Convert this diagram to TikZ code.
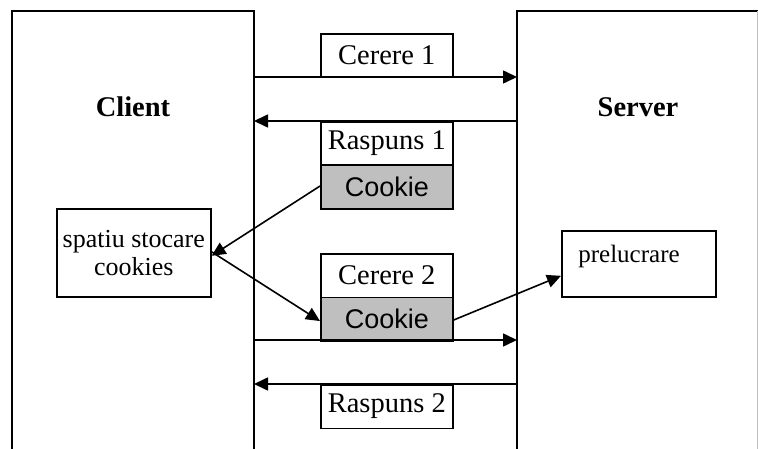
\documentclass[tikz,border=0pt]{standalone}
\usepackage{fontspec}
\setmainfont{Liberation Serif}
\newfontfamily\arialf{Liberation Sans}
\usetikzlibrary{arrows.meta}
\begin{document}
\begin{tikzpicture}[x=1pt,y=-1pt,
  lw/.style={line width=1.6pt},
  msg/.style={draw,lw,minimum width=132pt,minimum height=43.5pt,inner sep=0pt,anchor=north west,font=\fontsize{28.5}{30}\selectfont},
  ck/.style={msg,fill=black!25,font=\arialf\fontsize{27}{30}\selectfont},
  arr/.style={lw,-{Triangle[length=14pt,width=13pt]}},
  title/.style={font=\bfseries\fontsize{28.5}{30}\selectfont}]
\useasboundingbox (0,0) rectangle (758,449);
% client and server
\draw[lw] (12,449) coordinate (cbl) -- (12,11) -- (254,11) -- (254,449) coordinate (cbr);
\draw[lw] (758,11) -- (517,11) -- (517,449);
\draw[line width=1pt,black!25] (757,11) -- (757,449);
\node[title] (client) at (133,107) {Client};
\node[title] (server) at (638,107) {Server};
% messages
\node[msg] (c1) at (320,33) {Cerere 1};
\node[msg] (r1) at (320,121) {Raspuns 1};
\node[ck] (k1) at (320,164.5) {Cookie};
\node[msg] (c2) at (320,253) {Cerere 2};
\node[ck] (k2) at (320,296.5) {Cookie};
\node[msg] (r2) at (320,384) {Raspuns 2};
% storage and processing
\node[draw,lw,minimum width=154pt,minimum height=88pt,inner sep=0pt,anchor=north west,align=center,font=\fontsize{26}{28}\selectfont] (st) at (56,208) {spatiu stocare\\cookies};
\node[draw,lw,minimum width=154pt,minimum height=66pt,inner sep=0pt,anchor=north west] (pr) at (561,230) {};
\node[font=\fontsize{25}{28}\selectfont] (prt) at (629,256) {prelucrare};
% arrows
\coordinate (a1s) at (254,77);
\coordinate (a1e) at (517,77);
\coordinate (a2s) at (517,121);
\coordinate (a2e) at (254,121);
\coordinate (a3s) at (254,340);
\coordinate (a3e) at (517,340);
\coordinate (a4s) at (517,384);
\coordinate (a4e) at (254,384);
\draw[arr] (a1s) -- (a1e);
\draw[arr] (a2s) -- (a2e);
\draw[arr] (a3s) -- (a3e);
\draw[arr] (a4s) -- (a4e);
\draw[arr] ([yshift=1pt]k1.west) -- ([yshift=-3pt]st.east);
\draw[arr] ([yshift=1pt]st.east) -- ([yshift=-2pt]k2.west);
\draw[arr] ([yshift=-1pt]k2.east) -- ([yshift=-12pt]pr.west);
\end{tikzpicture}
\end{document}
